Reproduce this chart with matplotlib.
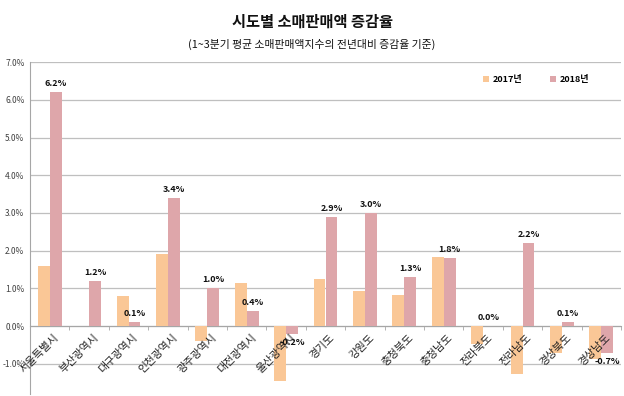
import matplotlib
matplotlib.use("Agg")
import matplotlib.pyplot as plt
import numpy as np
from matplotlib.ticker import FuncFormatter, FixedLocator

plt.rcParams['font.family'] = ['Noto Sans CJK KR', 'DejaVu Sans']

regions = ["서울특별시", "부산광역시", "대구광역시", "인천광역시", "광주광역시", "대전광역시",
           "울산광역시", "경기도", "강원도", "충청북도", "충청남도", "전라북도", "전라남도",
           "경상북도", "경상남도"]
v2017 = [1.6, 0.0, 0.8, 1.9, -0.4, 1.15, -1.45, 1.25, 0.92, 0.82, 1.82, -0.47, -1.28, -0.72, -0.86]
v2018 = [6.2, 1.2, 0.1, 3.4, 1.0, 0.4, -0.2, 2.9, 3.0, 1.3, 1.8, 0.0, 2.2, 0.1, -0.7]
labels2018 = ["6.2%", "1.2%", "0.1%", "3.4%", "1.0%", "0.4%", "-0.2%", "2.9%", "3.0%", "1.3%",
              "1.8%", "0.0%", "2.2%", "0.1%", "-0.7%"]
series_names = ["2017년", "2018년"]
yticks = [-1, 0, 1, 2, 3, 4, 5, 6, 7]

c17 = "#FAC796"
c18 = "#DEA6AA"

fig = plt.figure(figsize=(6.24, 3.96), dpi=100)
ax = fig.add_axes([30/624, 2/396, 591/624, (393.9-62)/396])

x = np.arange(len(regions))
w = 0.3
ax.bar(x - w/2, v2017, width=w, color=c17, label=series_names[0], zorder=3)
ax.bar(x + w/2, v2018, width=w, color=c18, label=series_names[1], zorder=3)

for xi, v, lab in zip(x, v2018, labels2018):
    if v >= 0:
        ax.annotate(lab, (xi + w/2, v), xytext=(0, 3), textcoords="offset points",
                    ha="center", va="bottom", fontsize=6.5, fontweight="bold", color="#111111", zorder=6)
    else:
        ax.annotate(lab, (xi + w/2, v), xytext=(0, -3), textcoords="offset points",
                    ha="center", va="top", fontsize=6.5, fontweight="bold", color="#111111", zorder=6)

# category labels drawn on top of bars
for xi, name in zip(x, regions):
    ax.annotate(name, (xi, 0), xytext=(4, -6), textcoords="offset pixels",
                rotation=45, ha="right", va="top", rotation_mode="anchor",
                fontsize=7.8, color="#222222", zorder=5)

ax.set_xlim(-0.5, len(regions) - 0.5)
ax.set_ylim(-1.8, 7.0)
ax.set_yticks(yticks)
ax.yaxis.set_major_formatter(FuncFormatter(lambda v, p: f"{v:.1f}%"))
ax.tick_params(axis="y", length=0, labelsize=6, labelcolor="#404040", pad=4)
ax.grid(axis="y", color="#BFBFBF", linewidth=0.9, zorder=0)
ax.set_axisbelow(True)

ax.spines['bottom'].set_position(('data', 0))
ax.spines['bottom'].set_color("#A6A6A6")
ax.spines['left'].set_color("#A6A6A6")
ax.spines['top'].set_visible(False)
ax.spines['right'].set_visible(False)

ax.set_xticks([])
ax.xaxis.set_minor_locator(FixedLocator(np.arange(-0.5, len(regions) + 0.5, 1)))
ax.tick_params(axis="x", which="minor", length=3, color="#A6A6A6", direction="out")

ax.legend(loc="upper right", bbox_to_anchor=(0.96, 0.985), ncol=2, frameon=False,
          handlelength=0.7, handleheight=0.7, columnspacing=3.0, handletextpad=0.4,
          prop={'weight': 'bold', 'size': 6.5})

fig.text(0.5, 1 - 22/396, "시도별 소매판매액 증감율", ha="center", va="center", fontsize=11, fontweight="bold", color="#111111")
fig.text(0.5, 1 - 44/396, "(1~3분기 평균 소매판매액지수의 전년대비 증감율 기준)", ha="center", va="center", fontsize=7.8, color="#111111")

fig.savefig("out.png", dpi=100)
